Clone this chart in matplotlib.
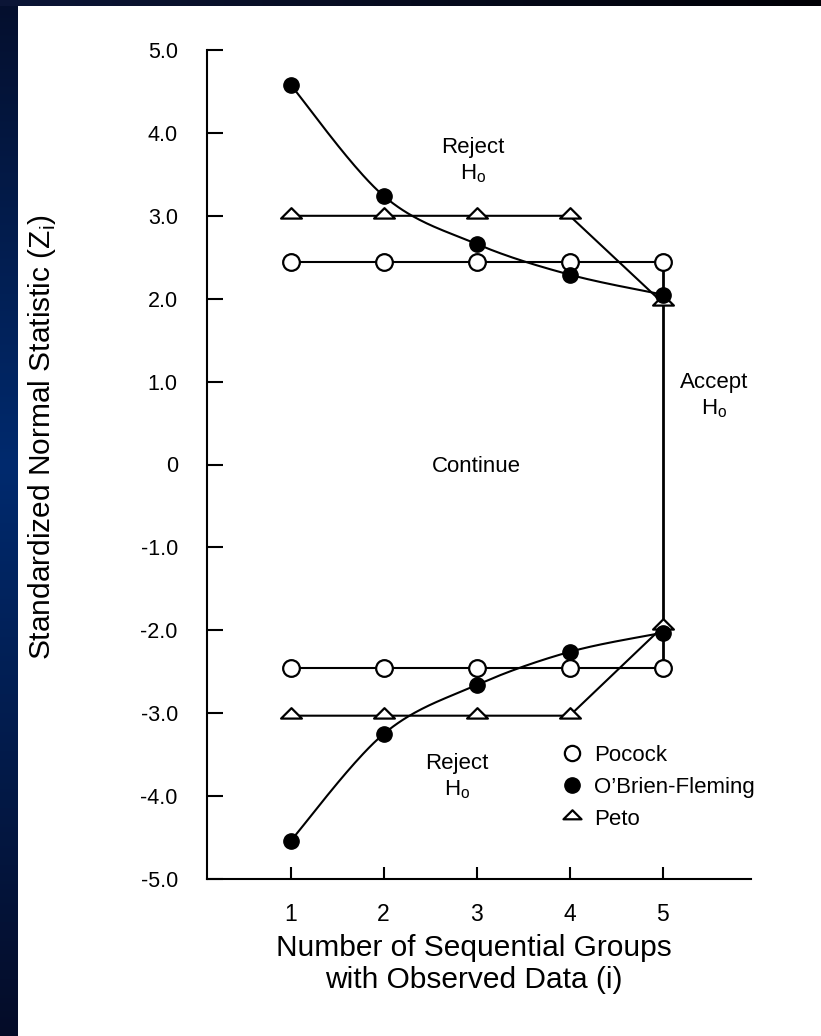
import numpy as np
import matplotlib
matplotlib.use("Agg")
import matplotlib.pyplot as plt
from matplotlib.path import Path
from matplotlib.lines import Line2D

plt.rcParams['font.family'] = ['Liberation Sans', 'DejaVu Sans']
plt.rcParams['mathtext.fontset'] = 'custom'
plt.rcParams['mathtext.rm'] = 'Liberation Sans'

# boundaries
groups = [1, 2, 3, 4, 5]
pocock_up = [2.44, 2.44, 2.44, 2.44, 2.44]
pocock_lo = [-2.46, -2.46, -2.46, -2.46, -2.46]
obf_up = [4.58, 3.24, 2.66, 2.29, 2.05]
obf_lo = [-4.54, -3.25, -2.66, -2.26, -2.03]
peto_up = [3.0, 3.0, 3.0, 3.0, 1.95]
peto_lo = [-3.03, -3.03, -3.03, -3.03, -1.96]
ytick_vals = [5, 4, 3, 2, 1, 0, -1, -2, -3, -4, -5]
ytick_labels = ['5.0', '4.0', '3.0', '2.0', '1.0', '0', '-1.0', '-2.0', '-3.0', '-4.0', '-5.0']


def smooth(xs, ys, n=40):
    # catmull-rom through the points, just for drawing the curved line
    px = [xs[0]] + list(xs) + [xs[-1]]
    py = [ys[0]] + list(ys) + [ys[-1]]
    outx, outy = [], []
    for i in range(1, len(px) - 2):
        t = np.linspace(0, 1, n)
        for p, out in ((px, outx), (py, outy)):
            p0, p1, p2, p3 = p[i - 1], p[i], p[i + 1], p[i + 2]
            out.extend(0.5 * (2 * p1 + (-p0 + p2) * t + (2 * p0 - 5 * p1 + 4 * p2 - p3) * t ** 2
                              + (-p0 + 3 * p1 - 3 * p2 + p3) * t ** 3))
    return outx, outy


W, H = 821, 1036
fig = plt.figure(figsize=(W / 100, H / 100), dpi=100)

# slide background: blue strip on the left, dark band on top
bg = fig.add_axes([0, 0, 1, 1])
bg.axis('off')
img = np.ones((H, W, 3))
rows = np.linspace(0, 1, H)
for c, stops in enumerate([(5, 0, 5), (15, 42, 12), (45, 110, 40)]):
    img[:, :18, c] = np.interp(rows, [0, 0.45, 1], stops)[:, None] / 255
cols = np.linspace(0, 1, W)
for c, stops in enumerate([(12, 0), (22, 0), (55, 5)]):
    img[:6, :, c] = np.interp(cols, [0, 1], stops)[None, :] / 255
bg.imshow(img, aspect='auto', extent=[0, 1, 0, 1])
bg.set_xlim(0, 1)
bg.set_ylim(0, 1)

ax = fig.add_axes([207 / W, 1 - 879 / H, 544 / W, 829 / H])
ax.set_facecolor('none')

tri = Path([(-1.25, -0.25), (1.25, -0.25), (0, 1.0), (-1.25, -0.25)],
           [Path.MOVETO, Path.LINETO, Path.LINETO, Path.CLOSEPOLY])
lw = 1.5

# lines
for ys in (pocock_up, pocock_lo, peto_up, peto_lo):
    ax.plot(groups, ys, color='black', lw=lw, zorder=2)
for ys in (obf_up, obf_lo):
    sx, sy = smooth(groups, ys)
    ax.plot(sx, sy, color='black', lw=lw, zorder=2)
ax.plot([groups[-1], groups[-1]], [pocock_up[-1], pocock_lo[-1]], color='black', lw=lw + 0.5, zorder=2)

# markers
for ys in (pocock_up, pocock_lo):
    ax.plot(groups, ys, ls='none', marker='o', ms=12, mfc='white', mec='black', mew=1.6, zorder=3)
for ys in (peto_up, peto_lo):
    ax.plot(groups, ys, ls='none', marker=tri, ms=15, mfc='white', mec='black', mew=1.6, zorder=4)
for ys in (obf_up, obf_lo):
    ax.plot(groups, ys, ls='none', marker='o', ms=11, mfc='black', mec='black', zorder=5)

ax.set_xlim(0.1, 5.95)
ax.set_ylim(-5, 5)
ax.set_xticks(groups)
ax.set_xticklabels([str(g) for g in groups])
ax.set_yticks(ytick_vals)
ax.set_yticklabels(ytick_labels)
ax.tick_params(axis='y', direction='in', length=11.5, width=1.5, pad=21, labelsize=15.5)
ax.tick_params(axis='x', direction='in', length=8.5, width=1.5, pad=17, labelsize=16.5)
for s in ('top', 'right'):
    ax.spines[s].set_visible(False)
for s in ('left', 'bottom'):
    ax.spines[s].set_linewidth(1.5)

fs = 16
ax.text(2.96, 3.66, 'Reject\nH$_\\mathregular{o}$', ha='center', va='center', fontsize=fs, linespacing=1.25)
ax.text(2.79, -3.77, 'Reject\nH$_\\mathregular{o}$', ha='center', va='center', fontsize=fs, linespacing=1.25)
ax.text(3.0, -0.03, 'Continue', ha='center', va='center', fontsize=fs)
ax.text(5.55, 0.83, 'Accept\nH$_\\mathregular{o}$', ha='center', va='center', fontsize=fs, linespacing=1.25)

handles = [
    Line2D([], [], ls='none', marker='o', ms=11, mfc='white', mec='black', mew=1.6),
    Line2D([], [], ls='none', marker='o', ms=11, mfc='black', mec='black'),
    Line2D([], [], ls='none', marker=tri, ms=13, mfc='white', mec='black', mew=1.6),
]
ax.legend(handles, ['Pocock', "O\u2019Brien-Fleming", 'Peto'], loc='upper left',
          bbox_to_anchor=(3.93, -3.38), bbox_transform=ax.transData, frameon=False,
          fontsize=16, handlelength=0.8, handletextpad=0.6, labelspacing=0.5,
          borderaxespad=0, borderpad=0)

fig.text(474 / W, 1 - 964 / H, 'Number of Sequential Groups\nwith Observed Data (i)',
         ha='center', va='center', fontsize=21.5, linespacing=1.15)
fig.text(42 / W, 1 - 437 / H, 'Standardized Normal Statistic (Z$_\\mathregular{i}$)',
         rotation=90, ha='center', va='center', fontsize=21.5)

fig.savefig('out.png', dpi=100)
